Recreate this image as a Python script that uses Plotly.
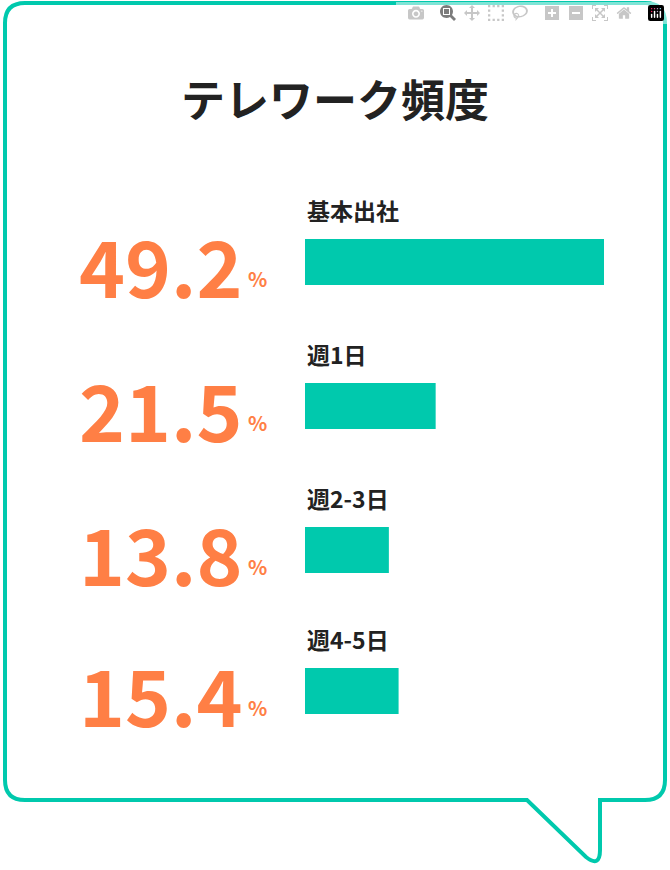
import plotly.graph_objects as go

categories = ["基本出社", "週1日", "週2-3日", "週4-5日"]
values = [49.2, 21.5, 13.8, 15.4]
value_labels = ["49.2", "21.5", "13.8", "15.4"]
title = "テレワーク頻度"

W, H = 670, 870
rows_y = [262, 406, 550, 691]
teal = "#00c9ad"
orange = "#ff7f45"
font = "Noto Sans CJK JP"

fig = go.Figure()
fig.add_trace(go.Bar(
    x=values, y=rows_y, orientation="h", width=46,
    marker=dict(color=teal, line=dict(width=0)),
    xaxis="x2", yaxis="y", hoverinfo="skip"))

ann = [dict(x=W/2, y=98, xref="x", yref="y", text=f"<b>{title}</b>", showarrow=False,
            font=dict(family=font, size=44, color="#222222"))]
for cat, lab, yc in zip(categories, value_labels, rows_y):
    ann.append(dict(x=305, y=yc-52, xref="x", yref="y", text=f"<b>{cat}</b>", showarrow=False,
                    xanchor="left", yanchor="middle", font=dict(family=font, size=23, color="#222222")))
    ann.append(dict(x=244, y=yc+2, xref="x", yref="y", text=f"<b>{lab}</b>", showarrow=False,
                    xanchor="right", yanchor="middle", font=dict(family=font, size=78, color=orange)))
    ann.append(dict(x=246, y=yc+16, xref="x", yref="y", text="<b>%</b>", showarrow=False,
                    xanchor="left", yanchor="middle", font=dict(family=font, size=20, color=orange)))

path = ("M 25,3 L 645,3 Q 665,3 665,23 L 665,780 Q 665,800 645,800 L 600,800 "
        "L 600,850 Q 600,868 586,857 L 527,800 L 25,800 Q 5,800 5,780 L 5,23 Q 5,3 25,3 Z")

fig.update_layout(
    width=W, height=H, margin=dict(l=0, r=0, t=0, b=0),
    paper_bgcolor="white", plot_bgcolor="rgba(0,0,0,0)", showlegend=False,
    xaxis=dict(range=[0, W], visible=False, domain=[0, 1], fixedrange=True),
    xaxis2=dict(range=[0, 49.2], visible=False, domain=[305/W, 604/W], anchor="y"),
    yaxis=dict(range=[H, 0], visible=False, fixedrange=True),
    shapes=[dict(type="path", path=path, xref="x", yref="y",
                 line=dict(color=teal, width=4), fillcolor="rgba(0,0,0,0)", layer="below")],
    annotations=ann,
)
fig.write_html("out.html", post_script="document.body.style.margin='0';document.body.style.overflow='hidden';")
